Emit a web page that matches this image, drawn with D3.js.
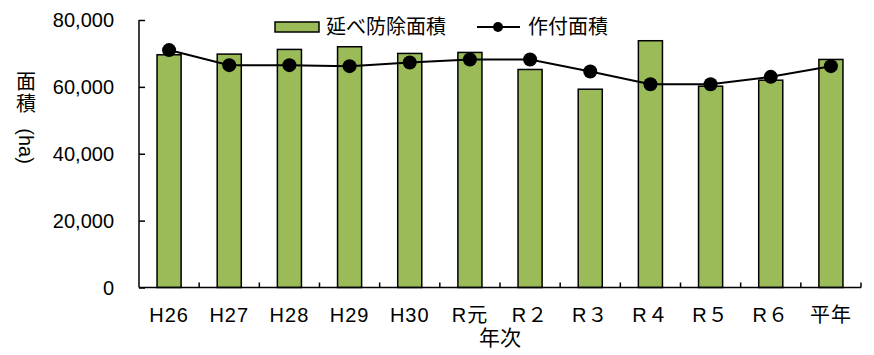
<!DOCTYPE html>
<html>
<head>
<meta charset="utf-8">
<script src="https://cdn.jsdelivr.net/npm/d3@7"></script>
<style>
  body { margin: 0; background: #fff; }
  text { font-family: "Liberation Sans", "Noto Sans CJK JP", sans-serif; fill: #000; }
</style>
</head>
<body>
<script>
// data
const years = ['H26', 'H27', 'H28', 'H29', 'H30', 'R元', 'R２', 'R３', 'R４', 'R５', 'R６', '平年'];
const controlArea = [69600, 69800, 71200, 72000, 70000, 70300, 65200, 59300, 73800, 60200, 62000, 68200];
const plantedArea = [71000, 66500, 66500, 66200, 67300, 68200, 68200, 64600, 60800, 60800, 63000, 66200];
const yTicks = [0, 20000, 40000, 60000, 80000];

const WIDTH = 874, HEIGHT = 355;
const MARGIN = {top: 20, right: 13, bottom: 67.5, left: 139};

const svg = d3.select('body').append('svg')
  .attr('width', WIDTH)
  .attr('height', HEIGHT);

const x = d3.scaleBand()
  .domain(years)
  .range([MARGIN.left, WIDTH - MARGIN.right])
  .paddingInner(0.6)
  .paddingOuter(0.3);

const y = d3.scaleLinear()
  .domain([0, 80000])
  .range([HEIGHT - MARGIN.bottom, MARGIN.top]);

const step = x.step();
const fmt = d3.format(',');

// bars
svg.selectAll('.bar')
  .data(years)
  .enter().append('rect')
  .attr('class', 'bar')
  .attr('x', d => x(d))
  .attr('y', (d, i) => y(controlArea[i]))
  .attr('width', x.bandwidth())
  .attr('height', (d, i) => y(0) - y(controlArea[i]))
  .style('fill', '#9BBB59')
  .style('stroke', '#000')
  .style('stroke-width', 1.5);

// y axis
const yAxis = svg.append('g')
  .attr('transform', 'translate(' + MARGIN.left + ',0)')
  .call(d3.axisRight(y).tickValues(yTicks).tickSize(6).tickFormat(''));
yAxis.select('.domain').attr('d', 'M0,' + y(80000) + 'V' + y(0));
yAxis.selectAll('line, path').style('stroke', '#000').style('stroke-width', 1.5);

svg.selectAll('.ylab')
  .data(yTicks)
  .enter().append('text')
  .attr('x', 114)
  .attr('y', d => y(d) + 7)
  .attr('text-anchor', 'end')
  .style('font-size', '20px')
  .text(d => fmt(d));

// x axis with boundary ticks pointing up
const boundaries = d3.range(years.length + 1).map(i => MARGIN.left + i * step);
svg.append('line')
  .attr('x1', MARGIN.left).attr('x2', WIDTH - MARGIN.right)
  .attr('y1', y(0)).attr('y2', y(0))
  .style('stroke', '#000').style('stroke-width', 1.5);
svg.selectAll('.xtick')
  .data(boundaries.slice(1))
  .enter().append('line')
  .attr('x1', d => d).attr('x2', d => d)
  .attr('y1', y(0)).attr('y2', y(0) - 5)
  .style('stroke', '#000').style('stroke-width', 1.5);

svg.selectAll('.xlab')
  .data(years)
  .enter().append('text')
  .attr('x', d => x(d) + x.bandwidth() / 2)
  .attr('y', 322)
  .attr('text-anchor', 'middle')
  .style('font-size', '20px')
  .style('letter-spacing', '1px')
  .text(d => d);

// line + markers
const line = d3.line()
  .x((d, i) => x(years[i]) + x.bandwidth() / 2)
  .y(d => y(d));

svg.append('path')
  .datum(plantedArea)
  .attr('d', line)
  .style('fill', 'none')
  .style('stroke', '#000')
  .style('stroke-width', 2);

svg.selectAll('.dot')
  .data(plantedArea)
  .enter().append('circle')
  .attr('cx', (d, i) => x(years[i]) + x.bandwidth() / 2)
  .attr('cy', d => y(d))
  .attr('r', 7)
  .style('fill', '#000');

// axis titles
const yTitle = svg.append('g');
yTitle.append('text').attr('x', 26).attr('y', 89).attr('text-anchor', 'middle')
  .style('font-size', '20px').text('面');
yTitle.append('text').attr('x', 26).attr('y', 111).attr('text-anchor', 'middle')
  .style('font-size', '20px').text('積');
yTitle.append('text')
  .attr('transform', 'translate(19,146) rotate(90)')
  .attr('text-anchor', 'middle')
  .style('font-size', '20px')
  .text('(ha)');

svg.append('text')
  .attr('x', (MARGIN.left + WIDTH - MARGIN.right) / 2)
  .attr('y', 345)
  .attr('text-anchor', 'middle')
  .style('font-size', '21px')
  .text('年次');

// legend
const legend = svg.append('g');
legend.append('rect')
  .attr('x', 275).attr('y', 22).attr('width', 44).attr('height', 10)
  .style('fill', '#9BBB59').style('stroke', '#000').style('stroke-width', 1.5);
legend.append('text').attr('x', 326).attr('y', 34)
  .style('font-size', '20px').text('延べ防除面積');
legend.append('line')
  .attr('x1', 477).attr('x2', 520).attr('y1', 27).attr('y2', 27)
  .style('stroke', '#000').style('stroke-width', 2);
legend.append('circle').attr('cx', 498).attr('cy', 27).attr('r', 5).style('fill', '#000');
legend.append('text').attr('x', 528).attr('y', 34)
  .style('font-size', '20px').text('作付面積');
</script>
</body>
</html>
